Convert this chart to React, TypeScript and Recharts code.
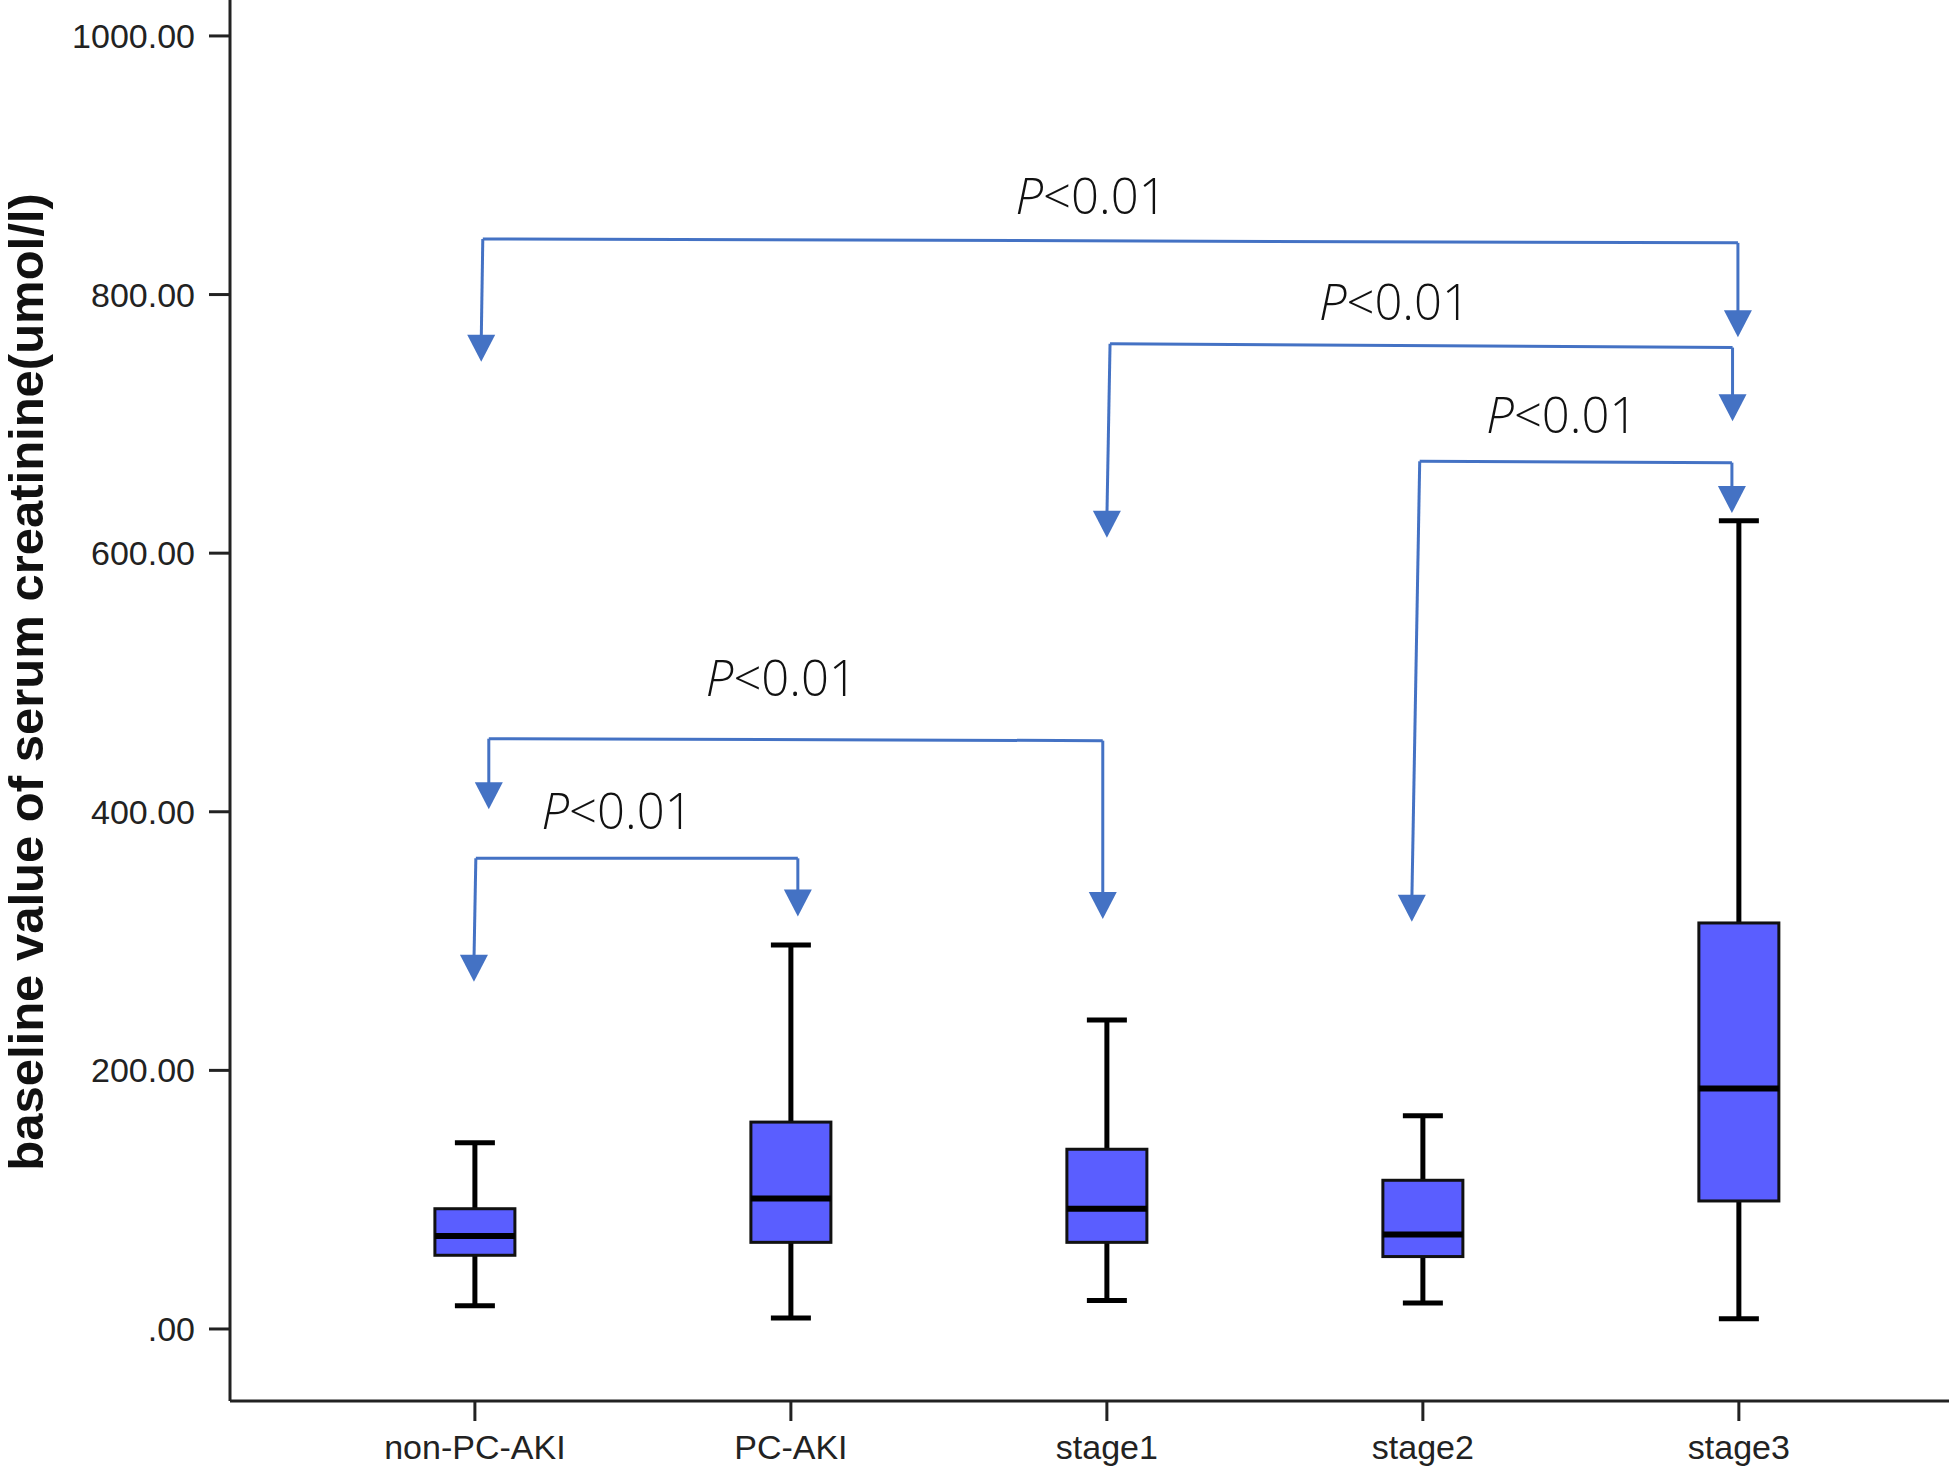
import {
  ComposedChart,
  Bar,
  XAxis,
  YAxis,
  ReferenceLine,
  ReferenceDot,
} from 'recharts'

const groups = ['non-PC-AKI', 'PC-AKI', 'stage1', 'stage2', 'stage3']
const mins = [18, 8.5, 22, 20, 8]
const q1s = [57, 67, 67, 56, 99]
const medians = [72, 101, 93, 73, 186]
const q3s = [93, 160, 139, 115, 314]
const maxs = [144, 297, 239, 165, 625]

const yTicks = [0, 200, 400, 600, 800, 1000]
const xTicks = [0, 1, 2, 3, 4]

// significance brackets, in (group index, creatinine value)
const bracketLeft = [0.025, 2.01, 2.99, 0.044, 0.003]
const bracketLeftBottom = [0.02, 2.0, 2.965, 0.044, -0.003]
const bracketLeftTop = [843, 762, 671, 456.5, 364]
const bracketLeftTip = [748, 612, 315, 402, 268.5]
const bracketRight = [3.997, 3.98, 3.978, 1.987, 1.022]
const bracketRightTop = [840, 759, 670, 455, 364]
const bracketRightTip = [767, 702, 631, 317, 319]

const pLabelX = [1.95, 2.91, 3.44, 0.97, 0.45]
const pLabelY = [877, 795, 708, 504, 401]

const data = groups.map((name, i) => ({
  name,
  pos: i,
  range: [mins[i], maxs[i]],
  min: mins[i],
  q1: q1s[i],
  median: medians[i],
  q3: q3s[i],
  max: maxs[i],
}))

const BLUE = '#4472C4'
const BOX = '#5A5EFF'

function BoxShape(props: any) {
  const { x, y, width, height, payload } = props
  const top = Math.min(y, y + height)
  const h = Math.abs(height)
  const k = h / (payload.max - payload.min)
  const py = (v: number) => top + (payload.max - v) * k
  const cx = x + width / 2
  const cap = 20
  return (
    <g>
      <line x1={cx} x2={cx} y1={py(payload.max)} y2={py(payload.q3)} stroke="#000" strokeWidth={5} />
      <line x1={cx} x2={cx} y1={py(payload.q1)} y2={py(payload.min)} stroke="#000" strokeWidth={5} />
      <line x1={cx - cap} x2={cx + cap} y1={py(payload.max)} y2={py(payload.max)} stroke="#000" strokeWidth={5} />
      <line x1={cx - cap} x2={cx + cap} y1={py(payload.min)} y2={py(payload.min)} stroke="#000" strokeWidth={5} />
      <rect
        x={x}
        y={py(payload.q3)}
        width={width}
        height={py(payload.q1) - py(payload.q3)}
        fill={BOX}
        stroke="#111"
        strokeWidth={3}
      />
      <line x1={x} x2={x + width} y1={py(payload.median)} y2={py(payload.median)} stroke="#000" strokeWidth={6} />
    </g>
  )
}

function Arrow(props: any) {
  const { cx, cy } = props
  return <polygon points={`${cx - 14},${cy - 27} ${cx + 14},${cy - 27} ${cx},${cy}`} fill={BLUE} />
}

function PText(props: any) {
  const { cx, cy } = props
  return (
    <text
      x={cx}
      y={cy}
      textAnchor="middle"
      dominantBaseline="central"
      fontFamily="'Open Sans', 'Noto Sans', sans-serif"
      fontWeight={300}
      fontSize={49}
      fill="#111"
    >
      <tspan fontStyle="italic">P</tspan>
      <tspan>{'<0.01'}</tspan>
    </text>
  )
}

function YLabel() {
  return (
    <text
      x={43}
      y={682}
      transform="rotate(-90, 43, 682)"
      textAnchor="middle"
      fontFamily="'Liberation Sans', Arial, sans-serif"
      fontWeight="bold"
      fontSize={49}
      fill="#111"
    >
      baseline value of serum creatinine(umol/l)
    </text>
  )
}

export default function App() {
  const tickStyle = { fontSize: 34, fill: '#222', fontFamily: "'Liberation Sans', Arial, sans-serif" }
  return (
    <div style={{ position: 'absolute', left: 0, top: 0, background: '#fff' }}>
      <ComposedChart width={1949} height={1469} data={data} margin={{ top: 0, right: 0, left: 0, bottom: 0 }}>
        <XAxis
          dataKey="pos"
          type="number"
          domain={[-0.775, 4.665]}
          allowDataOverflow
          ticks={xTicks}
          interval={0}
          tickFormatter={(v: number) => groups[v] ?? ''}
          height={68}
          tickSize={20}
          tickMargin={14}
          tick={tickStyle}
          axisLine={{ stroke: '#222', strokeWidth: 3 }}
          tickLine={{ stroke: '#222', strokeWidth: 3 }}
        />
        <YAxis
          type="number"
          domain={[-55.7, 1027.8]}
          allowDataOverflow
          ticks={yTicks}
          width={230}
          tickSize={21}
          tickMargin={14}
          tick={tickStyle}
          tickFormatter={(v: number) => (v === 0 ? '.00' : v.toFixed(2))}
          axisLine={{ stroke: '#222', strokeWidth: 3 }}
          tickLine={{ stroke: '#222', strokeWidth: 3 }}
        />
        <Bar dataKey="range" barSize={80} shape={BoxShape} isAnimationActive={false} />
        {bracketLeft.map((xl, i) => (
          <ReferenceLine
            key={`h${i}`}
            segment={[
              { x: xl, y: bracketLeftTop[i] },
              { x: bracketRight[i], y: bracketRightTop[i] },
            ]}
            stroke={BLUE}
            strokeWidth={3}
            ifOverflow="visible"
          />
        ))}
        {bracketLeft.map((xl, i) => (
          <ReferenceLine
            key={`l${i}`}
            segment={[
              { x: xl, y: bracketLeftTop[i] },
              { x: bracketLeftBottom[i], y: bracketLeftTip[i] + 15 },
            ]}
            stroke={BLUE}
            strokeWidth={3}
            ifOverflow="visible"
          />
        ))}
        {bracketRight.map((xr, i) => (
          <ReferenceLine
            key={`r${i}`}
            segment={[
              { x: xr, y: bracketRightTop[i] },
              { x: xr, y: bracketRightTip[i] + 15 },
            ]}
            stroke={BLUE}
            strokeWidth={3}
            ifOverflow="visible"
          />
        ))}
        {bracketLeftBottom.map((xb, i) => (
          <ReferenceDot key={`al${i}`} x={xb} y={bracketLeftTip[i]} shape={Arrow} ifOverflow="visible" />
        ))}
        {bracketRight.map((xr, i) => (
          <ReferenceDot key={`ar${i}`} x={xr} y={bracketRightTip[i]} shape={Arrow} ifOverflow="visible" />
        ))}
        {pLabelX.map((px, i) => (
          <ReferenceDot key={`p${i}`} x={px} y={pLabelY[i]} shape={PText} ifOverflow="visible" />
        ))}
        <YLabel />
      </ComposedChart>
    </div>
  )
}
